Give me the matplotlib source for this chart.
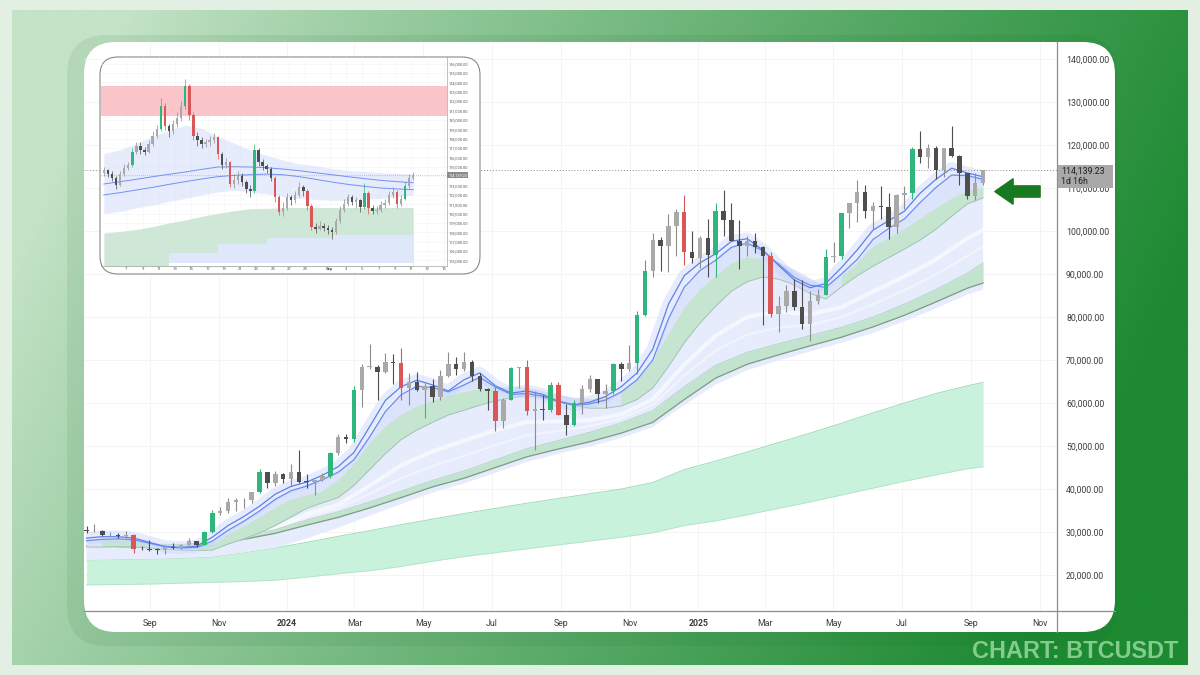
import numpy as np
import matplotlib
matplotlib.use("Agg")
import matplotlib.pyplot as plt
from matplotlib.patches import FancyBboxPatch, Rectangle, Polygon
from matplotlib.colors import to_rgb

plt.rcParams['font.family'] = ['Roboto', 'DejaVu Sans']

W, H = 1200, 675

# ---------------------------------------------------------------- main chart data
# weekly candles (USD thousands); week 0 starts 2023-07-03
first_week = '2023-07-03'
first_open_k = 30.5
close_k = [30.2, 30.2, 29.2, 29.3, 29.0, 29.4, 26.1, 26.0, 25.9, 25.8,
           26.5, 26.3, 27.0, 27.9, 26.9, 29.9, 34.5, 35.0, 37.0, 37.4,
           37.5, 39.4, 43.9, 41.4, 43.6, 42.3, 43.9, 41.7, 41.6, 42.0,
           43.0, 48.3, 52.1, 51.7, 63.1, 68.4, 68.4, 67.2, 69.6, 69.4,
           63.4, 64.9, 63.1, 63.9, 61.5, 66.3, 69.0, 67.8, 69.6, 66.2,
           63.2, 62.7, 55.8, 60.8, 68.2, 68.3, 58.1, 58.7, 58.4, 64.2,
           57.3, 54.8, 60.0, 63.3, 65.6, 62.1, 62.9, 69.0, 68.0, 69.4,
           80.4, 90.6, 98.0, 96.4, 101.2, 104.4, 95.2, 93.7, 98.3, 94.5,
           104.6, 102.6, 97.7, 96.5, 97.6, 96.2, 94.2, 80.7, 82.6, 86.1,
           82.3, 78.4, 83.7, 85.1, 94.0, 94.3, 104.2, 106.5, 109.0, 104.6,
           105.7, 105.5, 100.9, 108.4, 108.9, 119.1, 117.3, 119.4, 114.2, 119.3,
           117.4, 113.5, 108.2, 111.1, 114.14]
high_k = [31.5, 31.8, 30.4, 29.9, 29.8, 30.2, 29.6, 26.8, 28.1, 26.2,
          26.9, 27.5, 27.2, 28.6, 28.0, 30.3, 35.2, 35.9, 37.9, 37.9,
          38.0, 39.4, 44.7, 44.0, 44.3, 43.8, 45.9, 49.0, 43.5, 42.2,
          43.8, 48.5, 52.8, 52.9, 64.0, 69.0, 73.8, 68.9, 71.7, 71.3,
          72.7, 66.9, 67.1, 64.7, 65.5, 67.7, 71.9, 70.6, 71.9, 70.1,
          66.9, 63.4, 63.8, 61.2, 68.4, 68.3, 70.1, 62.7, 61.8, 64.9,
          64.9, 59.8, 60.6, 64.1, 66.5, 65.6, 64.5, 69.4, 69.5, 73.6,
          81.5, 93.3, 99.6, 98.7, 104.0, 105.2, 108.3, 99.9, 98.9, 102.7,
          106.4, 109.6, 106.5, 102.5, 98.8, 99.5, 96.5, 95.0, 84.9, 87.5,
          88.8, 88.5, 86.1, 86.4, 95.8, 97.4, 104.1, 105.8, 111.9, 110.7,
          106.8, 110.4, 108.9, 108.5, 110.5, 119.5, 123.2, 120.2, 119.8, 119.3,
          124.5, 117.6, 113.6, 113.4, 114.3]
low_k = [29.7, 29.9, 29.0, 29.0, 28.6, 28.7, 25.2, 25.8, 25.6, 25.0,
         24.9, 26.1, 26.0, 27.2, 26.6, 26.9, 29.8, 33.9, 34.5, 34.8,
         35.6, 36.8, 39.0, 40.2, 40.6, 41.5, 40.8, 41.5, 40.3, 38.5,
         41.8, 42.5, 48.0, 50.6, 50.9, 59.0, 68.0, 60.8, 67.0, 64.5,
         60.6, 59.6, 62.8, 56.5, 60.2, 60.8, 66.0, 66.6, 67.5, 65.0,
         62.8, 58.4, 53.5, 54.3, 60.6, 63.4, 57.2, 49.1, 56.1, 57.8,
         57.2, 52.6, 54.6, 57.5, 62.5, 59.9, 58.9, 62.0, 65.1, 67.5,
         66.8, 80.2, 89.4, 90.8, 90.5, 94.2, 92.2, 92.5, 91.5, 89.3,
         89.3, 98.9, 97.8, 91.2, 94.1, 94.8, 78.2, 80.0, 76.6, 81.2,
         81.6, 77.2, 74.5, 83.0, 85.1, 92.8, 93.4, 100.8, 102.0, 103.1,
         100.4, 102.7, 98.2, 99.6, 105.1, 107.5, 115.7, 114.7, 112.0, 112.6,
         117.2, 110.7, 107.5, 107.3, 110.6]

# ribbon + near band, sampled at every 2nd weekly candle
ribbon_fast = [28.6, 28.9, 28.9, 28.6, 27.6, 26.6, 26.4, 26.7, 28.8, 31.5,
               33.6, 36.0, 38.8, 40.6, 41.6, 43.2, 45.2, 48.5, 54.5, 60.6,
               63.8, 65.3, 64.2, 62.8, 65.4, 67.0, 64.0, 62.3, 62.8, 62.0,
               60.4, 59.6, 60.2, 61.5, 63.8, 67.0, 72.5, 83.0, 89.6, 92.6,
               94.7, 97.6, 98.2, 95.6, 92.0, 88.6, 86.8, 87.8, 91.5, 95.6,
               100.2, 102.4, 104.6, 108.8, 112.0, 114.6, 113.5, 112.6]
ribbon_slow = [28.0, 28.3, 28.4, 28.2, 27.4, 26.6, 26.3, 26.4, 27.9, 30.4,
               32.5, 34.9, 37.6, 39.6, 40.7, 42.2, 43.9, 46.8, 52.1, 58.0,
               61.9, 63.9, 63.6, 62.6, 64.2, 66.0, 63.7, 62.0, 62.2, 61.6,
               60.3, 59.5, 59.8, 60.7, 62.6, 65.4, 70.0, 79.6, 86.9, 90.8,
               93.2, 96.2, 97.2, 95.4, 92.3, 89.2, 87.4, 86.9, 90.0, 93.4,
               98.0, 100.6, 102.8, 106.6, 110.1, 113.0, 112.9, 112.0]
band1_top = [28.3, 28.2, 28.1, 27.9, 27.3, 26.8, 26.5, 26.3, 26.6, 29.5,
             31.3, 33.4, 35.6, 37.5, 38.5, 39.4, 42.0, 45.8, 50.5, 54.5,
             57.2, 59.1, 60.5, 61.6, 62.5, 63.2, 63.6, 63.8, 63.6, 62.8,
             62.0, 61.3, 61.0, 61.4, 62.5, 65.0, 69.5, 76.0, 82.0, 86.3,
             89.5, 92.4, 93.8, 93.5, 92.8, 91.0, 89.0, 87.0, 89.3, 92.5,
             96.3, 98.4, 100.4, 102.8, 105.2, 107.5, 109.3, 110.0]
band1_bot = [26.5, 26.5, 26.6, 26.5, 26.3, 26.0, 25.8, 25.7, 25.8, 27.2,
             28.4, 29.8, 31.5, 33.5, 35.5, 36.8, 38.0, 40.8, 44.5, 48.2,
             51.5, 53.7, 55.5, 57.2, 58.3, 59.5, 60.5, 61.2, 61.8, 61.2,
             60.2, 59.4, 58.8, 58.8, 59.3, 60.8, 63.5, 68.5, 74.0, 78.6,
             82.5, 86.0, 88.2, 89.3, 88.8, 87.5, 85.5, 84.2, 87.0, 89.6,
             91.8, 93.8, 95.8, 97.9, 100.4, 103.4, 106.3, 107.7]

# slow bands, sampled at weekly candles 0,4,...,112 and 114
slow_idx = list(range(0, 113, 4)) + [114]
band2_top = [27.6, 27.4, 27.2, 27.1, 27.6, 29.1, 30.6, 32.8, 34.7, 37.0,
             39.5, 42.0, 44.2, 46.8, 49.4, 51.3, 53.2, 55.4, 58.2, 63.8,
             68.8, 71.8, 73.8, 75.7, 77.6, 80.0, 83.0, 86.4, 90.2, 92.6]
band2_bot = [26.8, 26.6, 26.4, 26.3, 26.8, 28.3, 29.7, 31.6, 33.4, 35.6,
             38.0, 40.5, 42.5, 45.0, 47.5, 49.3, 51.0, 53.0, 55.5, 60.8,
             65.8, 69.0, 71.2, 73.3, 75.3, 77.7, 80.4, 83.5, 86.7, 87.9]
band3_top = [23.5, 23.6, 23.7, 23.9, 24.2, 25.2, 26.3, 27.6, 29.0, 30.3,
             31.7, 33.0, 34.3, 35.5, 36.7, 37.8, 38.9, 40.0, 41.5, 44.5,
             46.5, 48.6, 50.8, 53.0, 55.3, 57.7, 60.0, 62.2, 64.0, 64.8]
band3_bot = [17.7, 17.8, 17.9, 18.1, 18.3, 18.5, 18.8, 19.5, 20.3, 21.0,
             22.0, 23.2, 24.3, 25.2, 26.1, 27.0, 27.9, 28.8, 29.8, 31.5,
             32.6, 34.0, 35.5, 37.0, 38.6, 40.2, 41.8, 43.3, 44.7, 45.2]
cloud_floor = [23.5, 23.6, 23.7, 23.9, 24.2, 25.2, 26.3, 28.5, 31.0, 33.8,
               36.5, 39.2, 41.3, 43.8, 46.3, 48.2, 49.9, 51.9, 54.4, 59.5,
               64.3, 67.6, 69.9, 72.0, 74.0, 76.3, 79.0, 82.0, 85.2, 86.4]

last_price = 114139.23
countdown = '1d 16h'
x_tick_dates = ['2023-09-01', '2023-11-01', '2024-01-01', '2024-03-01', '2024-05-01',
                '2024-07-01', '2024-09-01', '2024-11-01', '2025-01-01', '2025-03-01',
                '2025-05-01', '2025-07-01', '2025-09-01', '2025-11-01']
x_tick_labels = ['Sep', 'Nov', '2024', 'Mar', 'May', 'Jul', 'Sep', 'Nov', '2025',
                 'Mar', 'May', 'Jul', 'Sep', 'Nov']
y_ticks_k = [20, 30, 40, 50, 60, 70, 80, 90, 100, 110, 120, 130, 140]

# ---------------------------------------------------------------- inset data (12h candles from 2025-08-04)
in_first = '2025-08-04'
in_first_open = 114.3
in_close = [114.6, 114.2, 113.8, 113.0, 114.2, 114.9, 115.2, 116.6, 117.2, 116.8,
            116.6, 117.4, 118.3, 119.0, 121.5, 119.3, 118.8, 119.5, 120.2, 121.5,
            123.6, 120.5, 118.3, 117.8, 117.4, 117.6, 117.8, 118.2, 116.3, 115.2,
            115.5, 113.2, 113.6, 114.0, 113.4, 112.6, 112.4, 116.8, 115.5, 115.1,
            114.8, 113.8, 111.8, 110.2, 110.6, 111.8, 111.4, 112.0, 112.8, 112.4,
            110.8, 108.6, 108.4, 108.7, 108.5, 108.2, 108.0, 109.2, 110.4, 111.0,
            111.8, 111.2, 111.4, 110.7, 112.2, 110.6, 110.3, 110.4, 110.9, 111.1,
            112.0, 112.3, 111.0, 111.6, 112.9, 113.8, 114.14]
in_high = [115.0, 114.8, 114.5, 114.0, 114.5, 115.3, 115.5, 117.0, 117.6, 117.6,
           117.1, 117.8, 118.8, 119.4, 122.3, 121.8, 119.6, 120.0, 120.8, 122.0,
           124.4, 123.8, 120.8, 118.7, 118.2, 118.0, 118.3, 118.6, 118.3, 116.6,
           115.9, 115.6, 114.2, 114.5, 114.3, 113.6, 113.0, 117.4, 117.0, 115.8,
           115.3, 115.0, 114.0, 112.0, 111.2, 112.2, 112.0, 112.4, 113.4, 113.0,
           112.6, 111.0, 109.0, 109.2, 109.0, 108.8, 108.6, 109.5, 110.8, 111.6,
           112.1, 112.0, 111.8, 111.6, 113.3, 112.4, 110.9, 110.8, 111.3, 111.5,
           112.4, 112.8, 112.5, 112.0, 113.4, 114.2, 114.4]
in_low = [114.0, 113.9, 113.5, 112.6, 112.9, 114.0, 114.6, 115.0, 116.3, 116.4,
          116.2, 116.5, 117.2, 118.1, 118.8, 118.9, 118.2, 118.5, 119.2, 119.9,
          121.2, 120.0, 117.8, 117.2, 117.0, 117.1, 117.2, 117.5, 115.8, 114.8,
          114.9, 112.8, 112.7, 113.2, 112.9, 112.2, 111.8, 112.2, 115.1, 114.6,
          114.3, 113.5, 111.2, 109.8, 109.7, 110.4, 110.9, 111.1, 111.8, 111.9,
          110.4, 108.2, 107.9, 108.2, 108.1, 107.8, 107.3, 107.8, 109.0, 110.2,
          110.8, 110.9, 110.6, 110.2, 110.5, 110.0, 109.9, 110.0, 110.2, 110.6,
          110.9, 111.7, 110.6, 110.8, 111.4, 112.7, 113.6]
# inset indicators sampled at every 4th inset candle
in_rib_a = [113.15, 113.4, 113.65, 113.93, 114.18, 114.43, 114.71, 114.96, 114.99, 114.96,
            114.89, 114.74, 114.57, 114.35, 114.14, 113.93, 113.72, 113.54, 113.4, 113.29]
in_rib_b = [111.98, 112.23, 112.51, 112.79, 113.11, 113.4, 113.68, 113.93, 114.07, 114.14,
            114.21, 114.14, 113.93, 113.65, 113.36, 113.11, 112.9, 112.72, 112.62, 112.55]
in_cloud_hi = [116.4, 116.8, 117.5, 118.2, 118.9, 119.4, 119.1, 118.2, 117.5, 116.8,
               116.2, 115.7, 115.3, 115.1, 114.8, 114.6, 114.5, 114.35, 114.3, 114.2]
in_cloud_lo = [110.0, 110.2, 110.6, 110.9, 111.3, 111.6, 112.0, 112.3, 112.5, 112.3,
               112.1, 111.8, 111.6, 111.5, 111.4, 111.4, 111.5, 111.6, 111.8, 112.0]
in_green_top = [107.9, 108.1, 108.3, 108.6, 109.0, 109.3, 109.7, 110.0, 110.3, 110.5,
                110.55, 110.6, 110.6, 110.6, 110.6, 110.6, 110.6, 110.6, 110.6, 110.6]
nan = float('nan')
in_blue_top = [nan, nan, nan, nan, 105.8, 105.8, 105.8, 106.8, 106.8, 106.8,
               107.4, 107.4, 107.4, 107.4, 107.7, 107.7, 107.7, 107.7, 107.7, 107.7]
in_blue_bot = [nan, nan, nan, nan, 104.7, 104.7, 104.7, 104.7, 104.7, 104.7,
               104.7, 104.7, 104.7, 104.7, 104.7, 104.7, 104.7, 104.7, 104.7, 104.7]
in_zone = [120.4, 123.6]
in_tick_dates = ['2025-08-07', '2025-08-09', '2025-08-11', '2025-08-13', '2025-08-15',
                 '2025-08-17', '2025-08-19', '2025-08-21', '2025-08-23', '2025-08-25',
                 '2025-08-27', '2025-08-29', '2025-09-01', '2025-09-03', '2025-09-05',
                 '2025-09-07', '2025-09-09', '2025-09-11', '2025-09-13', '2025-09-15']
in_tick_labels = ['7', '9', '11', '13', '15', '17', '19', '21', '23', '25', '27', '29',
                  'Sep', '3', '5', '7', '9', '11', '13', '15']
in_y_ticks = list(range(105, 127))

# ---------------------------------------------------------------- helpers
def day_num(s, origin):
    return float((np.datetime64(s) - np.datetime64(origin)) / np.timedelta64(1, 'D'))


def draw_candles(ax, x, o, h, l, c, width, g_th, r_th, lw, min_h, z):
    o, h, l, c = map(np.asarray, (o, h, l, c))
    h = np.maximum(h, np.maximum(o, c))
    l = np.minimum(l, np.minimum(o, c))
    chg = (c - o) / o
    cols = np.where(chg > g_th, '#2fb67c',
                    np.where(chg < r_th, '#d95757',
                             np.where(c >= o, '#a9a9a9', '#4e4e4e')))
    wick = np.where(chg > g_th, '#2fb67c',
                    np.where(chg < r_th, '#d95757',
                             np.where(c >= o, '#8d8d8d', '#4e4e4e')))
    ax.vlines(x, l, h, colors=list(wick), lw=lw, zorder=z)
    ax.bar(x, np.maximum(np.abs(c - o), min_h), width=width, bottom=np.minimum(o, c),
           color=list(cols), edgecolor='none', zorder=z + 0.1)


def pix_axes(z):
    a = fig.add_axes([0, 0, 1, 1], zorder=z)
    a.patch.set_alpha(0)
    a.axis('off')
    return a


def fix_pix(a):
    a.set_xlim(0, W)
    a.set_ylim(H, 0)

# ---------------------------------------------------------------- figure + background
fig = plt.figure(figsize=(12, 6.75), dpi=100)
fig.patch.set_facecolor('#e2f0e3')

bg = pix_axes(0)
gxv = np.linspace(0, 1, 600)
gyv = np.linspace(0, 1, 330)
GX, GY = np.meshgrid(gxv, gyv)
s = np.clip(1.0 * GX + 0.25 * GY - 0.1, 0, 1) ** 0.9
light = np.array(to_rgb('#c4e3c7'))
dark = np.array(to_rgb('#1d8a32'))
img = light[None, None, :] * (1 - s[..., None]) + dark[None, None, :] * s[..., None]
bg.imshow(img, extent=(12, 1188, 665, 10), aspect='auto', interpolation='bilinear', zorder=1)
bg.add_patch(FancyBboxPatch((67, 35), 1050, 611, boxstyle='round,pad=0,rounding_size=40',
                            fc=(0.1, 0.4, 0.15), alpha=0.09, ec='none', zorder=2))
bg.add_patch(FancyBboxPatch((84, 42), 1031, 590, boxstyle='round,pad=0,rounding_size=32',
                            fc='white', ec='none', zorder=3))
fix_pix(bg)

# ---------------------------------------------------------------- main chart
origin = '2023-09-01'
ax = fig.add_axes([84 / W, (H - 611) / H, 973 / W, 569 / H], zorder=1)
ax.patch.set_alpha(0)

n = len(close_k)
cx = day_num(first_week, origin) + 7 * np.arange(n) + 3.5
opens = np.array([first_open_k] + close_k[:-1])
gx = cx[::2]
sx = cx[slow_idx]
r_fast = np.array(ribbon_fast)
r_slow = np.array(ribbon_slow)
b1t = np.array(band1_top)
b1b = np.array(band1_bot)
b2t = np.array(band2_top)

# mint long-term band
ax.fill_between(sx, band3_bot, band3_top, color='#c9f2dc', lw=0, zorder=1)
ax.plot(sx, band3_top, color='#9fdbb9', lw=0.7, zorder=1.1)
ax.plot(sx, band3_bot, color='#b3e3c7', lw=0.6, zorder=1.1)

# wide light cloud (from near band down to cloud floor)
ax.fill(np.concatenate([gx, sx[::-1]]), np.concatenate([b1b, np.array(cloud_floor)[::-1]]),
        color='#e6ecfc', lw=0, zorder=1.5)
# white streaks inside the cloud
b1b_slow = b1b[np.array(slow_idx) // 2]
ax.plot(sx, (b1b_slow + b2t) / 2, color='white', lw=3.0, alpha=0.6, zorder=1.6)
ax.plot(sx, (b1b_slow + 3 * b2t) / 4, color='white', lw=1.6, alpha=0.45, zorder=1.6)

# slow green band
ax.fill_between(sx, band2_bot, band2_top, color='#c2e3cd', lw=0, zorder=2)
ax.plot(sx, band2_top, color='#a8cfb6', lw=0.5, zorder=2.1)
ax.plot(sx, band2_bot, color='#7f9c8b', lw=0.9, zorder=2.1)

# cloud between ribbon and near band
ax.fill_between(gx, r_slow, b1t, color='#d3defa', alpha=0.8, lw=0, zorder=2.5)

# near band (green when ribbon above it)
up = r_slow >= b1t
ax.fill_between(gx, b1b, b1t, color='#dbe2f9', lw=0, zorder=3)
ax.fill_between(gx, b1b, b1t, where=up, color='#c5e5d0', lw=0, zorder=3.1)
ax.plot(gx, b1b, color='#98c2a8', lw=0.6, zorder=3.2)

# ribbon glow and lines
ax.plot(gx, r_fast, color='#c8d6fa', lw=9, alpha=0.45, solid_capstyle='butt', zorder=3.4)
ax.plot(gx, r_fast, color='#5c80ef', lw=0.9, zorder=3.6)
ax.plot(gx, r_slow, color='#6a8bf0', lw=0.9, zorder=3.6)

# price line
ax.axhline(last_price / 1000, color='#8c8c8c', lw=0.7, ls=(0, (1, 2)), zorder=3.8)

draw_candles(ax, cx, opens, high_k, low_k, close_k, 4.0, 0.09, -0.08, 0.8, 0.15, 4)

ax.set_xlim(-58.75, 807.3)
ax.set_ylim(11.63, 143.95)
for sp in ax.spines.values():
    sp.set_visible(False)
ax.plot([1, 1], [-0.037, 1.0], transform=ax.transAxes, clip_on=False, color='#8e8e8e', lw=0.9, zorder=6)
ax.plot([0, 1.0596], [0, 0], transform=ax.transAxes, clip_on=False, color='#8e8e8e', lw=0.9, zorder=6)

ax.yaxis.tick_right()
ax.set_yticks(y_ticks_k)
ax.set_yticklabels([f'{v * 1000:,.2f}' for v in y_ticks_k])
ax.set_xticks([day_num(d, origin) for d in x_tick_dates])
ax.set_xticklabels(x_tick_labels)
ax.tick_params(axis='y', length=0, pad=6.5, labelsize=6.3, labelcolor='#3c3c3c')
ax.tick_params(axis='x', length=0, pad=5.5, labelsize=6.3, labelcolor='#3c3c3c')
for lab in ax.get_xticklabels():
    if lab.get_text() in ('2024', '2025'):
        lab.set_fontweight('bold')
ax.grid(True, color='#f3f3f3', lw=0.6)
ax.set_axisbelow(True)

# ---------------------------------------------------------------- inset
boxax = pix_axes(2)
inset_box = FancyBboxPatch((100, 57), 380, 217, boxstyle='round,pad=0,rounding_size=18',
                           fc='white', ec='#8a8a8a', lw=0.8, zorder=1)
boxax.add_patch(inset_box)
fix_pix(boxax)

in_origin = '2025-08-01'
ax_in = fig.add_axes([101 / W, (H - 266) / H, 346 / W, 209 / H], zorder=3)
ax_in.patch.set_alpha(0)
m = len(in_close)
tx = day_num(in_first, in_origin) + 0.5 * np.arange(m) + 0.25
in_open = np.array([in_first_open] + in_close[:-1])
tg = tx[::4]
ylo, yhi = 104.4, 126.7

ax_in.axhspan(in_zone[0], in_zone[1], color='#f9c5cb', lw=0, zorder=1)
ax_in.fill_between(tg, ylo, in_green_top, color='#cfe7d6', lw=0, zorder=1.2)
ax_in.fill_between(tg, ylo, in_blue_bot, step='post', color='white', lw=0, zorder=1.3)
ax_in.fill_between(tg, in_blue_bot, in_blue_top, step='post', color='#dfe7fb', lw=0, zorder=1.4)
ax_in.fill_between(tg, in_cloud_lo, in_cloud_hi, color='#d3ddfa', alpha=0.55, lw=0, zorder=1.6)
ax_in.plot(tg, in_rib_a, color='#7391f1', lw=0.7, zorder=2)
ax_in.plot(tg, in_rib_b, color='#7391f1', lw=0.7, zorder=2)
ax_in.axhline(last_price / 1000, color='#9a9a9a', lw=0.5, ls=(0, (1, 2)), zorder=2.2)
draw_candles(ax_in, tx, in_open, in_high, in_low, in_close, 0.3, 0.0115, -0.0115, 0.5, 0.05, 3)

ax_in.set_xlim(2.9, 45.4)
ax_in.set_ylim(ylo, yhi)
for side in ('left', 'top'):
    ax_in.spines[side].set_visible(False)
for side in ('right', 'bottom'):
    ax_in.spines[side].set_color('#a5a5a5')
    ax_in.spines[side].set_linewidth(0.5)
ax_in.yaxis.tick_right()
ax_in.set_yticks(in_y_ticks)
ax_in.set_yticklabels([f'{v * 1000:,.2f}' for v in in_y_ticks])
ax_in.set_xticks([day_num(d, in_origin) for d in in_tick_dates])
ax_in.set_xticklabels(in_tick_labels)
ax_in.tick_params(axis='y', length=0, pad=1.5, labelsize=2.9, labelcolor='#555555')
ax_in.tick_params(axis='x', length=0, pad=1.0, labelsize=3.1, labelcolor='#555555')
for lab in ax_in.get_xticklabels():
    if lab.get_text() == 'Sep':
        lab.set_fontweight('bold')
ax_in.grid(True, color='#f4f4f4', lw=0.4)
ax_in.set_axisbelow(True)
ax_in.text(1.004, last_price / 1000, f'{last_price:,.2f}', transform=ax_in.get_yaxis_transform(),
           fontsize=2.8, color='white', ha='left', va='center', zorder=6,
           bbox=dict(boxstyle='square,pad=0.3', fc='#8b8b8b', ec='none'))
for art in list(ax_in.collections) + list(ax_in.lines) + list(ax_in.patches):
    art.set_clip_path(inset_box)

# ---------------------------------------------------------------- overlay: price tag, arrow, caption
ov = pix_axes(5)
ov.add_patch(Rectangle((1058, 165), 55, 23, fc='#a9a9a9', ec='none', zorder=1))
ov.text(1061, 171, f'{last_price:,.2f}', fontsize=6.3, color='#1e1e1e', va='center', ha='left', zorder=2)
ov.text(1061, 182, countdown, fontsize=6.3, color='#1e1e1e', va='center', ha='left', zorder=2)
ov.add_patch(Polygon([(995, 191.5), (1013, 179), (1013, 186), (1040, 186), (1040, 197),
                      (1013, 197), (1013, 204)], closed=True, fc='#177a20', ec='#177a20',
                     lw=1.2, joinstyle='round', zorder=2))
ov.text(1075.5, 652, 'CHART: BTCUSDT', fontsize=16.9, fontweight='bold',
        family=['Liberation Sans', 'DejaVu Sans'], color='#84cb8d', ha='center', va='center', zorder=2)
fix_pix(ov)

fig.savefig('out.png', dpi=100, facecolor=fig.get_facecolor())
